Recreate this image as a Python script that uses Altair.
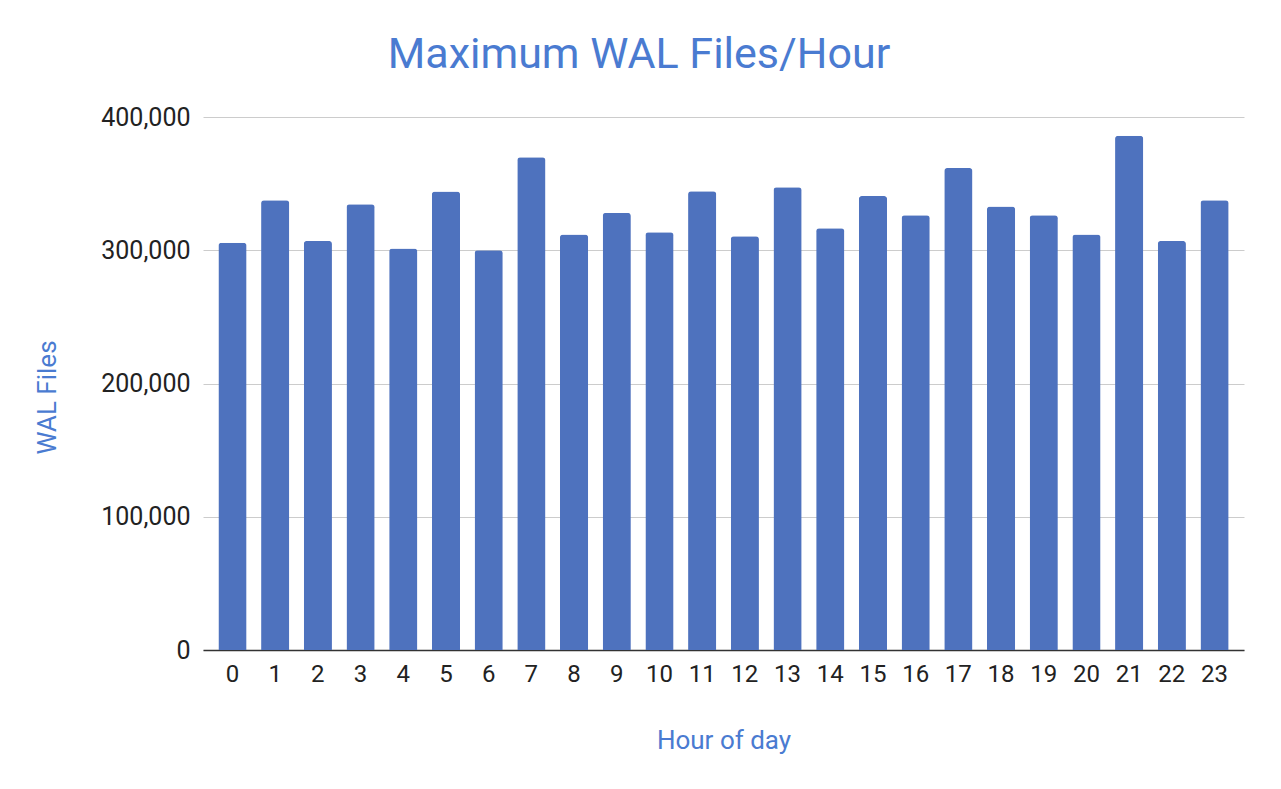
import altair as alt
import pandas as pd

# Valores (máximo de ficheros WAL por hora)
horas = [str(h) for h in range(24)]
wal_files = [
    305600, 337500, 307000, 334500, 301300, 344000, 300000, 369800,
    311800, 328000, 313500, 344300, 310500, 347300, 316500, 340700,
    326200, 361700, 332800, 326200, 311800, 386000, 307000, 337500,
]
y_ticks = [0, 100000, 200000, 300000, 400000]

data = pd.DataFrame({'Hora': horas, 'WAL': wal_files})

azul_barra = '#4e72be'
azul_texto = '#4a7bd1'

chart = alt.Chart(data).mark_bar(
    color=azul_barra,
    cornerRadiusTopLeft=3,
    cornerRadiusTopRight=3
).encode(
    x=alt.X('Hora:N', sort=horas,
            scale=alt.Scale(paddingInner=0.34, paddingOuter=0.36),
            axis=alt.Axis(title='Hour of day', labelAngle=0, ticks=False,
                          labelPadding=12, domainColor='#333333', domainWidth=1.5,
                          titleY=90, titleBaseline='middle')),
    y=alt.Y('WAL:Q', scale=alt.Scale(domain=[0, 400000]),
            axis=alt.Axis(title='WAL Files', values=y_ticks, format=',d',
                          ticks=False, domain=False, labelPadding=13,
                          labelFontSize=25,
                          gridColor='#cccccc', titleAngle=-90,
                          titleX=-156, titleY=280, titleAlign='center',
                          titleBaseline='middle'))
).properties(
    width=1041,
    height=533,
    title=alt.TitleParams('Maximum WAL Files/Hour', fontSize=43, color=azul_texto,
                          font='Roboto', fontWeight='normal', anchor='middle',
                          frame='bounds', offset=28),
    autosize=alt.AutoSizeParams(type='none'),
    padding={'left': 195, 'top': 109, 'right': 28, 'bottom': 125}
).configure_axis(
    labelFont='Roboto', labelFontSize=24, labelColor='#222222',
    titleFont='Roboto', titleFontSize=26, titleColor=azul_texto, titleFontWeight='normal'
).configure_view(
    stroke=None
)

chart.save("out.html", embed_options={"renderer": "svg", "actions": False})
